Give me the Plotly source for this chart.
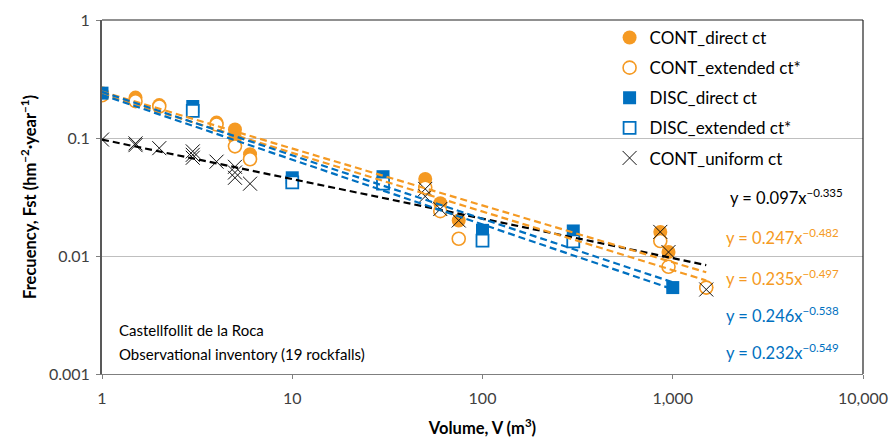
import numpy as np
import plotly.graph_objects as go

# Rockfall frequency vs volume, Castellfollit de la Roca
ORANGE = "#F59A23"
BLUE = "#0070C0"

cont_direct_v = [1, 1.5, 2, 4, 5, 5, 6, 50, 60, 75, 860, 950, 1500]
cont_direct_f = [0.24, 0.22, 0.19, 0.135, 0.118, 0.10, 0.073, 0.045, 0.028, 0.020, 0.016, 0.0108, 0.0054]

cont_ext_v = [1, 1.5, 2, 4, 5, 6, 50, 60, 75, 860, 950, 1500]
cont_ext_f = [0.23, 0.205, 0.185, 0.13, 0.085, 0.066, 0.038, 0.024, 0.014, 0.0134, 0.0081, 0.0054]

disc_direct_v = [1, 3, 10, 30, 100, 300, 1000]
disc_direct_f = [0.24, 0.185, 0.046, 0.047, 0.0165, 0.0163, 0.0054]

disc_ext_v = [3, 10, 30, 100, 300]
disc_ext_f = [0.17, 0.042, 0.041, 0.0135, 0.0133]

cont_uni_v = [1, 1.5, 1.5, 2, 3, 3, 3, 4, 5, 5, 5, 6, 50, 50, 60, 75, 860, 950, 1500]
cont_uni_f = [0.097, 0.09, 0.087, 0.082, 0.077, 0.072, 0.068, 0.063, 0.057, 0.051, 0.046,
              0.041, 0.037, 0.032, 0.025, 0.020, 0.016, 0.0108, 0.0052]

# Power-law fits y = a * x^b
fit_coef = [0.097, 0.247, 0.235, 0.246, 0.232]
fit_exp = [-0.335, -0.482, -0.497, -0.538, -0.549]
fit_color = ["#000000", ORANGE, ORANGE, BLUE, BLUE]
fit_xmax = [1500, 1500, 1500, 1000, 1000]

x_tickvals = [1, 10, 100, 1000, 10000]
x_ticktext = ["1", "10", "100", "1,000", "10,000"]
y_tickvals = [0.001, 0.01, 0.1, 1]
y_ticktext = ["0.001", "0.01", "0.1", "1"]

FONT = "Lato"

fig = go.Figure()

fig.add_trace(go.Scatter(
    x=cont_direct_v, y=cont_direct_f, mode="markers", name="CONT_direct ct",
    legendgroup="a",
    marker=dict(symbol="circle", size=14, color=ORANGE, line=dict(width=0))))
fig.add_trace(go.Scatter(
    x=cont_ext_v, y=cont_ext_f, mode="markers", name="CONT_extended ct*",
    legendgroup="b",
    marker=dict(symbol="circle", size=13, color="white", line=dict(width=1.6, color=ORANGE))))
fig.add_trace(go.Scatter(
    x=disc_direct_v, y=disc_direct_f, mode="markers", name="DISC_direct ct",
    legendgroup="c",
    marker=dict(symbol="square", size=13, color=BLUE, line=dict(width=0))))
fig.add_trace(go.Scatter(
    x=disc_ext_v, y=disc_ext_f, mode="markers", name="DISC_extended ct*",
    legendgroup="d",
    marker=dict(symbol="square", size=12, color="white", line=dict(width=1.8, color=BLUE))))
fig.add_trace(go.Scatter(
    x=cont_uni_v, y=cont_uni_f, mode="markers", name="CONT_uniform ct",
    legendgroup="e",
    marker=dict(symbol="x-thin", size=14, color="black", line=dict(width=1, color="#111111"))))

for a, b, c, xm in zip(fit_coef, fit_exp, fit_color, fit_xmax):
    xs = np.logspace(0, np.log10(xm), 60)
    fig.add_trace(go.Scatter(
        x=xs, y=a * xs ** b, mode="lines", showlegend=False, hoverinfo="skip",
        line=dict(color=c, width=2.2, dash="7px,4px")))

# Fit equations
eq_text = ["y = 0.097x<sup>−0.335</sup>", "y = 0.247x<sup>−0.482</sup>",
           "y = 0.235x<sup>−0.497</sup>", "y = 0.246x<sup>−0.538</sup>",
           "y = 0.232x<sup>−0.549</sup>"]
eq_x = [0.823, 0.817, 0.817, 0.817, 0.817]
eq_y = [0.5, 0.388, 0.27, 0.168, 0.063]
for t, xx, yy, c in zip(eq_text, eq_x, eq_y, fit_color):
    fig.add_annotation(text=t, xref="paper", yref="paper", x=xx, y=yy,
                       xanchor="left", yanchor="middle", showarrow=False,
                       font=dict(family=FONT, size=16.5, color=c))

fig.add_annotation(text="Castellfollit de la Roca", xref="paper", yref="paper",
                   x=0.02, y=0.124, xanchor="left", yanchor="middle", showarrow=False,
                   font=dict(family=FONT, size=15, color="#000000"))
fig.add_annotation(text="Observational inventory (19 rockfalls)", xref="paper", yref="paper",
                   x=0.02, y=0.056, xanchor="left", yanchor="middle", showarrow=False,
                   font=dict(family=FONT, size=15, color="#000000"))

# Top and right frame of the plot area
fig.add_shape(type="line", xref="paper", yref="paper", x0=0, x1=1, y0=1, y1=1,
              line=dict(color="#222222", width=1.2))
fig.add_shape(type="line", xref="paper", yref="paper", x0=1, x1=1, y0=0, y1=1,
              line=dict(color="#222222", width=1.2))

fig.update_layout(
    width=889, height=439,
    margin=dict(l=102, r=26, t=20, b=65),
    paper_bgcolor="white", plot_bgcolor="white",
    font=dict(family=FONT, size=16, color="#404040"),
    legend=dict(x=0.667, y=1.0, xanchor="left", yanchor="top",
                bgcolor="rgba(0,0,0,0)", traceorder="grouped", tracegroupgap=5,
                font=dict(family=FONT, size=17, color="#000000")),
    xaxis=dict(type="log", range=[0, 4], tickvals=x_tickvals, ticktext=x_ticktext,
               showgrid=False, showline=True, linecolor="#7f7f7f", linewidth=1,
               ticks="outside", ticklen=4, tickcolor="#7f7f7f",
               ticklabelstandoff=6, automargin=False,
               tickfont=dict(family=FONT, size=16, color="#404040"),
               zeroline=False,
               title=dict(text="Volume, V (m<sup>3</sup>)", standoff=16,
                          font=dict(family=FONT, size=16.5, color="#000000", weight="bold"))),
    yaxis=dict(type="log", range=[-3, 0], tickvals=y_tickvals, ticktext=y_ticktext,
               showgrid=True, gridcolor="#bfbfbf", gridwidth=1,
               showline=True, linecolor="#595959", linewidth=2,
               ticks="outside", ticklen=4, tickcolor="#7f7f7f",
               ticklabelstandoff=3, automargin=False,
               tickfont=dict(family=FONT, size=16, color="#404040"),
               zeroline=False,
               title=dict(text="Frecuency, Fst (hm<sup>−2</sup>·year<sup>−1</sup>)", standoff=8,
                          font=dict(family=FONT, size=16.5, color="#000000", weight="bold"))),
)

fig.write_html("out.html")
